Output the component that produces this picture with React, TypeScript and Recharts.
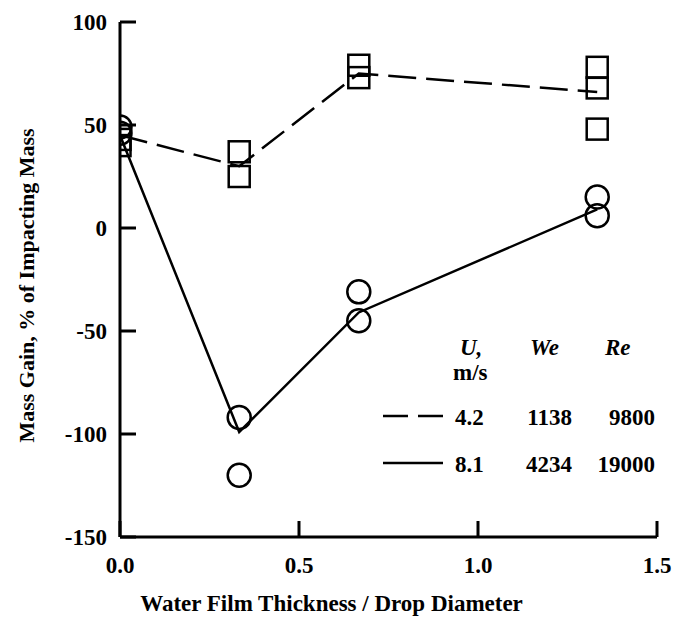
import React from "react";
import { ScatterChart, Scatter, XAxis, YAxis } from "recharts";

const FONT = "Liberation Serif";

const xTicks = [0, 0.5, 1.0, 1.5];
const yTicks = [-150, -100, -50, 0, 50, 100];

// U = 4.2 m/s measurements (squares)
const squareX = [0, 0, 0.333, 0.333, 0.667, 0.667, 1.333, 1.333, 1.333];
const squareY = [43, 40, 37, 25, 79, 73, 78, 68, 48];

// U = 8.1 m/s measurements (circles)
const circleX = [0, 0, 0.333, 0.333, 0.667, 0.667, 1.333, 1.333];
const circleY = [49, 46, -92, -120, -31, -45, 15, 6];

// mean curves
const curveX = [0, 0.333, 0.667, 1.333];
const dashedY = [45, 30, 75, 66];
const solidY = [45, -99, -41, 9];

// legend table
const legendU = ["4.2", "8.1"];
const legendWe = ["1138", "4234"];
const legendRe = ["9800", "19000"];

const zip = (xs: number[], ys: number[]) => xs.map((x, i) => ({ x, y: ys[i] }));

const squares = zip(squareX, squareY);
const circles = zip(circleX, circleY);
const dashed = zip(curveX, dashedY);
const solid = zip(curveX, solidY);

const SquareMark = (p: any) => (
  <rect x={p.cx - 10.5} y={p.cy - 10.5} width={21} height={21} fill="none" stroke="#000" strokeWidth={2.5} />
);
const CircleMark = (p: any) => (
  <circle cx={p.cx} cy={p.cy} r={11.5} fill="none" stroke="#000" strokeWidth={2.5} />
);
const NoMark = () => <g />;

const tickStyle = { fill: "#000", fontSize: 23 };

const YTitle = (props: any) => {
  const vb = props.viewBox;
  const cx = 26;
  const cy = vb.y + vb.height / 2 + 6;
  return (
    <text x={cx} y={cy} transform={`rotate(-90 ${cx} ${cy})`} textAnchor="middle" dominantBaseline="central"
      fontSize={22} fill="#000">
      Mass Gain, % of Impacting Mass
    </text>
  );
};

const XTitle = (props: any) => {
  const vb = props.viewBox;
  return (
    <text x={vb.x + vb.width / 2 - 57} y={611} textAnchor="middle" fontSize={23} fill="#000">
      Water Film Thickness / Drop Diameter
    </text>
  );
};

const cell = (left: number, top: number, text: string, align: "left" | "right" = "left", italic = false) => (
  <div key={`${left}-${top}-${text}`}
    style={{
      position: "absolute",
      left: align === "right" ? left - 100 : left,
      width: 100,
      top,
      textAlign: align,
      fontSize: 23,
      lineHeight: "23px",
      fontStyle: italic ? "italic" : "normal",
      whiteSpace: "nowrap",
    }}>
    {text}
  </div>
);

function LegendTable() {
  const rowTop = [406, 453];
  return (
    <div style={{ position: "absolute", left: 0, top: 0, width: 687, height: 629, pointerEvents: "none" }}>
      <svg width={687} height={629} style={{ position: "absolute", left: 0, top: 0 }}>
        {legendU.map((u, i) => (
          <line key={u} x1={383} x2={443} y1={rowTop[i] + 10} y2={rowTop[i] + 10} stroke="#000" strokeWidth={2.5}
            strokeDasharray={i === 0 ? "25 10" : undefined} />
        ))}
      </svg>
      {cell(460, 336, "U,", "left", true)}
      {cell(453, 361, "m/s")}
      {cell(530, 336, "We", "left", true)}
      {cell(605, 336, "Re", "left", true)}
      {legendU.map((u, i) => cell(455, rowTop[i], u))}
      {legendWe.map((w, i) => cell(572, rowTop[i], w, "right"))}
      {legendRe.map((r, i) => cell(655, rowTop[i], r, "right"))}
    </div>
  );
}

export default function App() {
  return (
    <div style={{
      position: "absolute", left: 0, top: 0, width: 687, height: 629, background: "#fff",
      fontFamily: FONT, fontWeight: 700, color: "#000",
    }}>
      <ScatterChart width={687} height={629} margin={{ top: 22, right: 30, bottom: 0, left: 0 }}>
        <XAxis
          type="number"
          dataKey="x"
          domain={[0, 1.5]}
          ticks={xTicks}
          interval={0}
          allowDataOverflow
          tickFormatter={(v: number) => v.toFixed(1)}
          height={92}
          tickSize={-16}
          tickMargin={36}
          axisLine={{ stroke: "#000", strokeWidth: 3 }}
          tickLine={{ stroke: "#000", strokeWidth: 3 }}
          tick={tickStyle}
          label={<XTitle />}
        />
        <YAxis
          type="number"
          dataKey="y"
          domain={[-150, 100]}
          ticks={yTicks}
          interval={0}
          allowDataOverflow
          width={120}
          tickSize={-16}
          tickMargin={29}
          axisLine={{ stroke: "#000", strokeWidth: 3 }}
          tickLine={{ stroke: "#000", strokeWidth: 3 }}
          tick={tickStyle}
          label={<YTitle />}
        />
        <Scatter data={dashed} shape={NoMark} isAnimationActive={false}
          line={{ stroke: "#000", strokeWidth: 2.5, strokeDasharray: "28 10" }} />
        <Scatter data={solid} shape={NoMark} isAnimationActive={false}
          line={{ stroke: "#000", strokeWidth: 2.5 }} />
        <Scatter data={squares} shape={SquareMark} isAnimationActive={false} />
        <Scatter data={circles} shape={CircleMark} isAnimationActive={false} />
      </ScatterChart>
      <LegendTable />
    </div>
  );
}
